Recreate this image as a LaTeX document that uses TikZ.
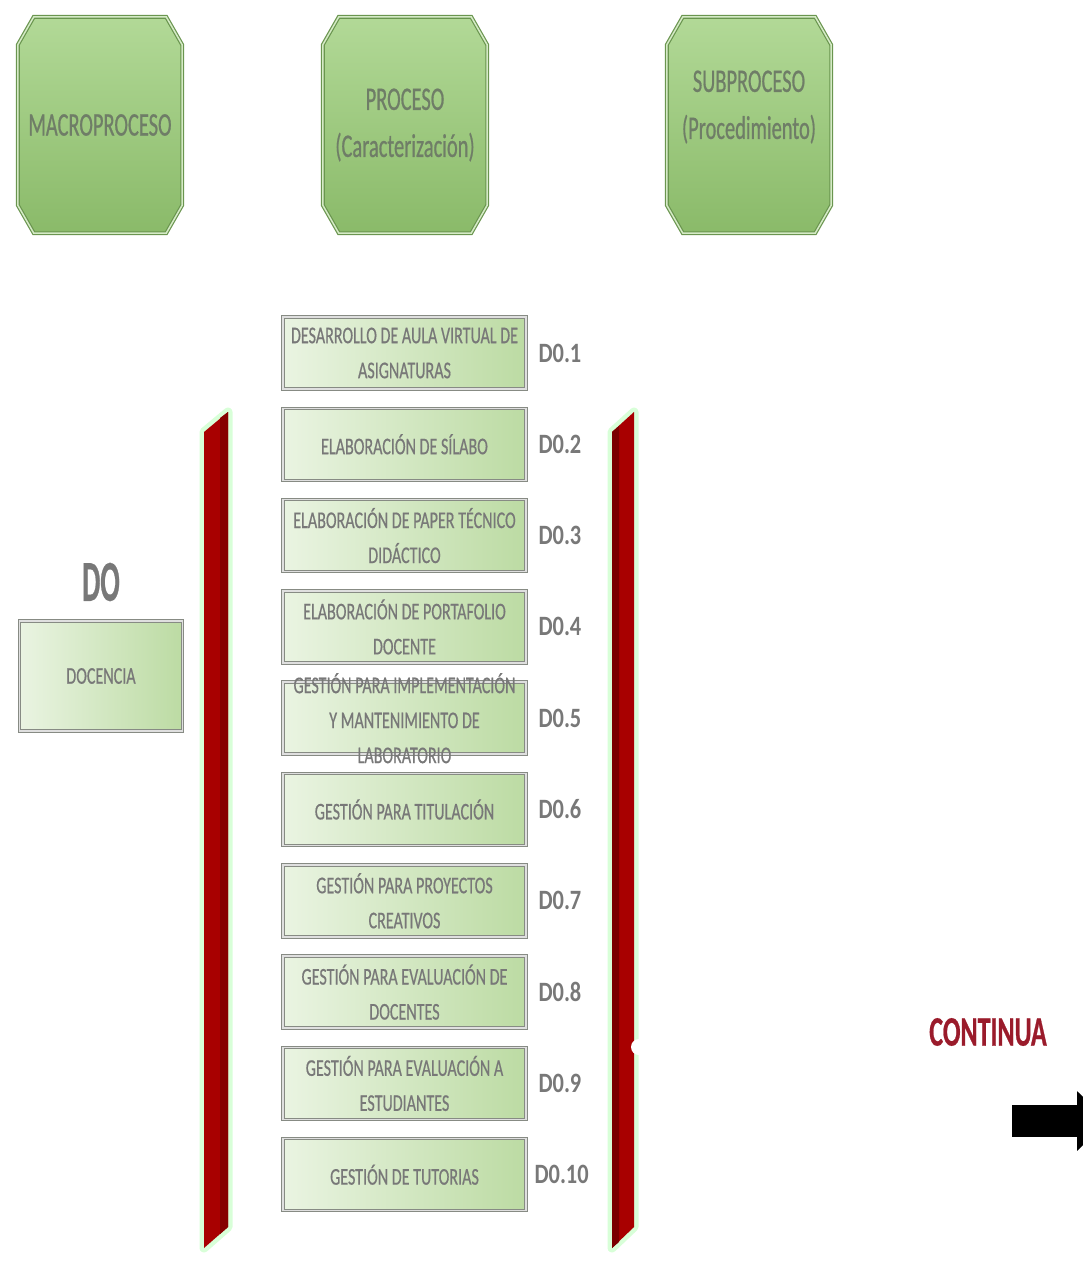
\documentclass[tikz,border=0pt]{standalone}
\usepackage{fontspec}
\newfontfamily\titlefont{Carlito}[FakeStretch=0.62, FakeBold=0.6]
\newfontfamily\boxfont{Carlito}[FakeStretch=0.67, FakeBold=0.5]
\newfontfamily\codefont{Carlito}[FakeStretch=0.8]
\usetikzlibrary{arrows.meta,positioning,backgrounds}
\definecolor{tgreen}{HTML}{B2D997}
\definecolor{tgreendk}{HTML}{8ABA69}
\definecolor{tborder}{HTML}{6A954F}
\definecolor{ttext}{HTML}{6F7D67}
\definecolor{pfilltop}{HTML}{EAF4E2}
\definecolor{pfillbot}{HTML}{BCDBA3}
\definecolor{pborder}{HTML}{878B84}
\definecolor{ptext}{HTML}{787878}
\definecolor{barred}{HTML}{A80000}
\definecolor{bardark}{HTML}{7A0000}
\definecolor{contred}{HTML}{9A1B2B}
\tikzset{
  title style/.style={rectangle, minimum width=164pt, minimum height=216pt,
    inner sep=0pt, font=\titlefont\fontsize{33}{47}\selectfont, text=ttext, align=center},
  title frame/.style={draw=tborder, line width=1.2pt, double=tgreen!55!white,
    double distance=1.5pt, line join=miter, top color=tgreen, bottom color=tgreendk},
  proc style/.style={rectangle, minimum width=243pt, minimum height=72pt,
    inner sep=0pt, outer sep=0pt, draw=pborder, line width=1pt,
    double=gray!25, double distance=1.5pt, left color=pfilltop, right color=pfillbot},
  proc text/.style={font=\boxfont\fontsize{24}{35}\selectfont, text=ptext, align=center},
  code style/.style={font=\codefont\bfseries\fontsize{28}{30}\selectfont, text=ptext},
  bar glow/.style={draw=green!30!white, line width=9pt, line join=round, opacity=0.5},
  bar style/.style={fill=barred}
}
% chamfered outline behind a title node
\newcommand{\titleframe}[1]{%
  \draw[title frame] ([xshift=16pt]#1.north west) -- ([xshift=-16pt]#1.north east)
    -- ([yshift=-28pt]#1.north east) -- ([yshift=28pt]#1.south east)
    -- ([xshift=-16pt]#1.south east) -- ([xshift=16pt]#1.south west)
    -- ([yshift=28pt]#1.south west) -- ([yshift=-28pt]#1.north west) -- cycle;}
\begin{document}
\begin{tikzpicture}[x=1pt, y=-1pt, node distance=19.3pt]
\useasboundingbox (0,0) rectangle (1083,1269);
% header boxes
\node[title style] (macro) at (100,125) {MACROPROCESO};
\node[title style] (proc) at (405,125) {PROCESO\\(Caracterización)};
\node[title style, label={[title style, minimum width=0pt, minimum height=0pt, yshift=18pt]center:{SUBPROCESO\\(Procedimiento)}}] (subp) at (749,125) {};
\begin{scope}[on background layer]
\titleframe{macro}
\titleframe{proc}
\titleframe{subp}
\end{scope}
% macroproceso
\node[font=\titlefont\bfseries\fontsize{58}{60}\selectfont, text=ptext] (mcode) at (101,582) {\scalebox{0.8}[1]{DO}};
\node[proc style, minimum width=163pt, minimum height=110pt, font=\boxfont\fontsize{24}{35}\selectfont, text=ptext] (doc) at (101,676) {DOCENCIA};
% brackets
\draw[bar glow] (204,432) -- (228,412) -- (228,1227) -- (204,1248) -- cycle;
\fill[bar style] (204,432) -- (228,412) -- (228,1227) -- (204,1248) -- cycle;
\fill[barred!80!black] (220,418) -- (228,412) -- (228,1227) -- (220,1234) -- cycle;
\draw[bar glow] (612,432) -- (634,412) -- (634,1227) -- (612,1248) -- cycle;
\fill[bar style] (612,432) -- (634,412) -- (634,1227) -- (612,1248) -- cycle;
\fill[bardark] (612,432) -- (619,426) -- (619,1242) -- (612,1248) -- cycle;
\fill[white] (639,1047) circle (8);
% procesos
\node[proc style, label={[proc text]center:{DESARROLLO DE AULA VIRTUAL DE\\ASIGNATURAS}}] (p1) at (404.5,353) {};
\node[proc style, below=of p1, label={[proc text]center:{ELABORACIÓN DE SÍLABO}}] (p2) {};
\node[proc style, below=of p2, label={[proc text]center:{ELABORACIÓN DE PAPER TÉCNICO\\DIDÁCTICO}}] (p3) {};
\node[proc style, below=of p3, label={[proc text]center:{ELABORACIÓN DE PORTAFOLIO\\DOCENTE}}] (p4) {};
\node[proc style, below=of p4, label={[proc text]center:{GESTIÓN PARA IMPLEMENTACIÓN\\Y MANTENIMIENTO DE\\LABORATORIO}}] (p5) {};
\node[proc style, below=of p5, label={[proc text]center:{GESTIÓN PARA TITULACIÓN}}] (p6) {};
\node[proc style, below=of p6, label={[proc text]center:{GESTIÓN PARA PROYECTOS\\CREATIVOS}}] (p7) {};
\node[proc style, below=of p7, label={[proc text]center:{GESTIÓN PARA EVALUACIÓN DE\\DOCENTES}}] (p8) {};
\node[proc style, below=of p8, label={[proc text]center:{GESTIÓN PARA EVALUACIÓN A\\ESTUDIANTES}}] (p9) {};
\node[proc style, below=of p9, label={[proc text]center:{GESTIÓN DE TUTORIAS}}] (p10) {};
% codigos
\node[code style, right=9pt of p1] (c1) {D0.1};
\node[code style, right=9pt of p2] (c2) {D0.2};
\node[code style, right=9pt of p3] (c3) {D0.3};
\node[code style, right=9pt of p4] (c4) {D0.4};
\node[code style, right=9pt of p5] (c5) {D0.5};
\node[code style, right=9pt of p6] (c6) {D0.6};
\node[code style, right=9pt of p7] (c7) {D0.7};
\node[code style, right=9pt of p8] (c8) {D0.8};
\node[code style, right=9pt of p9] (c9) {D0.9};
\node[code style, right=5pt of p10] (c10) {D0.10};
% continua
\node[font=\titlefont\bfseries\fontsize{42}{44}\selectfont, text=contred] (cont) at (988,1032) {CONTINUA};
\coordinate (a0) at (1012,1121);
\coordinate (a1) at (1108,1121);
\draw[-{Triangle[length=31pt, width=58pt]}, line width=32pt] (a0) -- (a1);
\end{tikzpicture}
\end{document}
